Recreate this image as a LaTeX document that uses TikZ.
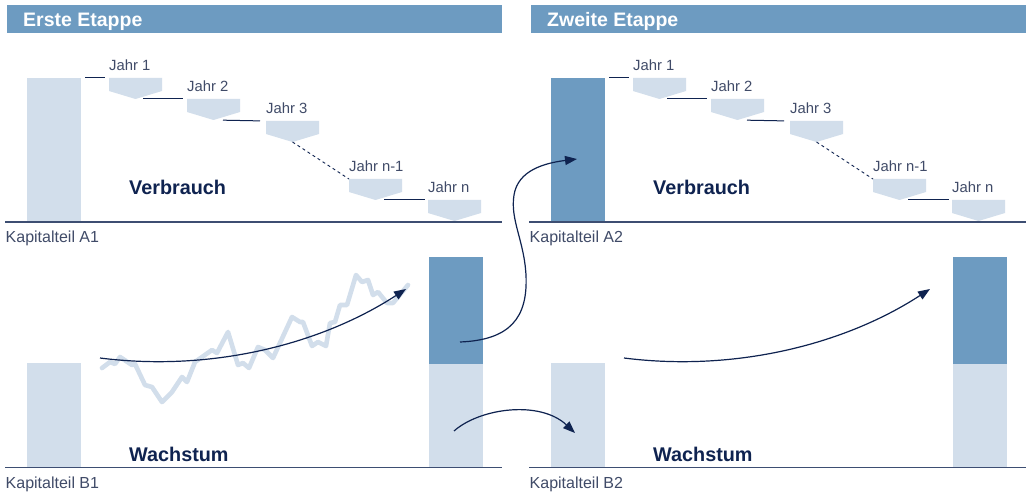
\documentclass[tikz,border=0pt]{standalone}
\usepackage{fontspec}
\setmainfont{Liberation Sans}
\usetikzlibrary{arrows.meta}
\definecolor{hdr}{HTML}{6D9BC1}
\definecolor{lite}{HTML}{D2DEEB}
\definecolor{navy}{HTML}{0F2350}
\definecolor{rulec}{HTML}{3D4E72}
\definecolor{txt}{HTML}{404B68}
\begin{document}
\begin{tikzpicture}[x=1pt,y=-1pt,
  bar/.style={rectangle, inner sep=0pt, outer sep=0pt, minimum width=54pt, anchor=north west},
  hdrbox/.style={rectangle, fill=hdr, inner sep=0pt, outer sep=0pt, minimum width=495pt, minimum height=28pt, anchor=north west},
  hdrtxt/.style={font=\fontsize{19.5}{22}\selectfont\bfseries, text=white, anchor=base west, inner sep=0pt},
  year/.style={font=\fontsize{14.8}{16}\selectfont, text=txt, anchor=base west, inner sep=0pt},
  captxt/.style={font=\fontsize{16}{18}\selectfont, text=txt, anchor=base west, inner sep=0pt},
  bigtxt/.style={font=\fontsize{19.8}{22}\selectfont\bfseries, text=navy, anchor=base west, inner sep=0pt},
  conn/.style={draw=navy, line width=1pt},
  flow/.style={draw=navy, line width=1.2pt, -{Triangle[length=12pt,width=9pt]}},
  rulel/.style={draw=rulec, line width=1.5pt},
  wiggle/.style={draw=lite, line width=4.6pt, line join=round, line cap=round}]
\useasboundingbox (0,0) rectangle (1029,492);
\fill[white] (0,0) rectangle (1029,492);

\foreach \p/\dx/\ttl/\n/\acol in {L/0/Erste Etappe/1/lite, R/524/Zweite Etappe/2/hdr}{
  % header
  \node[hdrbox] (h\p) at (\dx+7,5) {};
  \node[hdrtxt] (ht\p) at (\dx+23,27) {\ttl};
  % bars
  \node[bar, fill=\acol, minimum height=144pt] (barA\p) at (\dx+27,78) {};
  \node[bar, fill=lite, minimum height=104pt] (barB\p) at (\dx+27,363) {};
  \node[bar, fill=hdr, minimum height=107pt] (gtop\p) at (\dx+429,257) {};
  \node[bar, fill=lite, minimum height=103pt] (gbot\p) at (\dx+429,364) {};
  % chevrons
  \foreach \i/\x/\y/\lab in {1/109/78/Jahr 1, 2/187/99/Jahr 2, 3/266/121/Jahr 3, 4/349/179/Jahr n-1, 5/428/200/Jahr n}{
    \fill[lite] (\dx+\x,\y) coordinate (tl\i\p) -- ++(53,0) -- ++(0,13) -- ++(-26.5,8) coordinate (tip\i\p) -- ++(-26.5,-8) -- cycle;
    \node[year] (yl\i\p) at (\dx+\x,\y-7) {\lab};
  }
  \draw[conn, shorten <=4pt, shorten >=4pt] (barA\p.north east) -- (tl1\p);
  \draw[conn, shorten <=7.5pt, shorten >=4pt] (tip1\p) -- (tl2\p);
  \draw[conn, shorten <=9.5pt, shorten >=6pt] (tip2\p) -- (tl3\p);
  \draw[conn, dash pattern=on 3pt off 3pt, line width=0.9pt] (tip3\p) -- (tl4\p);
  \draw[conn, shorten <=8.5pt, shorten >=3pt] (tip4\p) -- (tl5\p);
  % rules
  \draw[rulel] (\dx+5,222) coordinate (rA\p) -- (\dx+502,222) coordinate (rAe\p);
  \draw[rulel] (\dx+5,467.5) coordinate (rB\p) -- (\dx+502,467.5) coordinate (rBe\p);
  % texts
  \node[captxt] (kA\p) at (\dx+5.5,242) {Kapitalteil A\n};
  \node[captxt] (kB\p) at (\dx+5.5,488) {Kapitalteil B\n};
  \node[bigtxt] (vb\p) at (\dx+129,195) {Verbrauch};
  \node[bigtxt] (ws\p) at (\dx+129,461) {Wachstum};
  % growth arrow
  \coordinate (gs\p) at (\dx+100,358);
  \coordinate (ge\p) at (\dx+406,289);
}

% market wiggle
\draw[wiggle] plot coordinates {(102,368) (110,362) (115,364) (120,357) (132,365) (135,364) (145,385) (152,387) (162,402) (172,392) (182,377) (187,382) (195,362) (212,350) (217,353) (228,332) (238,365) (243,363) (249,368) (258,347) (265,350) (273,358) (292,317) (300,322) (303,322) (312,346) (318,342) (326,346) (330,323) (335,322) (340,305) (347,305) (356,275) (362,282) (368,280) (373,295) (378,292) (387,303) (393,303) (408,285)};

\draw[flow] (gsL) .. controls (210,372) and (320,345) .. (geL);
\draw[flow] (gsR) .. controls (734,372) and (844,345) .. (geR);

% transfers
\coordinate (ta) at (460,342);
\coordinate (tae) at (577,159);
\draw[flow] (ta) .. controls (510,340) and (528,318) .. (526,275) .. controls (524,240) and (510,220) .. (514,195) .. controls (518,170) and (545,163) .. (tae);
\coordinate (tb) at (454,431);
\coordinate (tbe) at (575,433);
\draw[flow] (tb) .. controls (480,408) and (540,400) .. (tbe);
\end{tikzpicture}
\end{document}
